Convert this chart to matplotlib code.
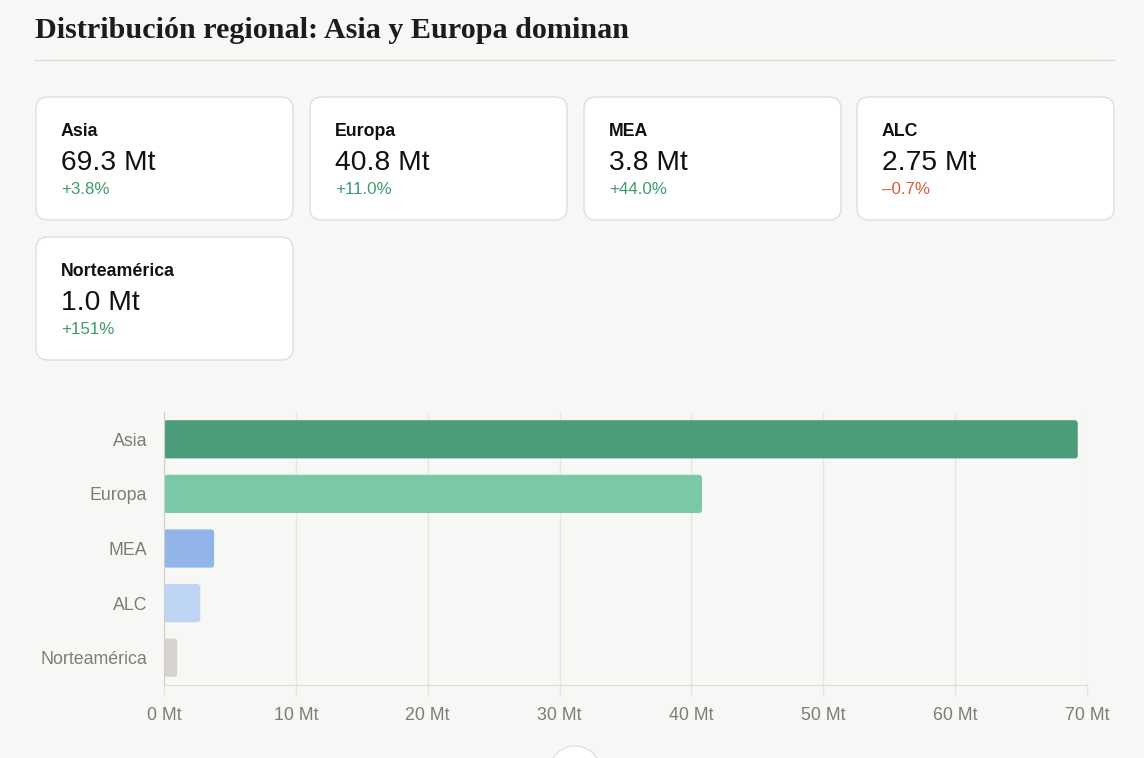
import matplotlib
matplotlib.use("Agg")
import matplotlib.pyplot as plt
from matplotlib.patches import FancyBboxPatch, Circle

# data
regions = ["Asia", "Europa", "MEA", "ALC", "Norteamérica"]
volumes = [69.3, 40.8, 3.8, 2.75, 1.0]
value_labels = ["69.3 Mt", "40.8 Mt", "3.8 Mt", "2.75 Mt", "1.0 Mt"]
changes = ["+3.8%", "+11.0%", "+44.0%", "\u20130.7%", "+151%"]
bar_colors = ["#4a9d78", "#7bc8a6", "#91b5e8", "#bdd4f2", "#d6d3cc"]
x_ticks = [0, 10, 20, 30, 40, 50, 60, 70]

BG = "#f7f7f5"
GRID = "#e6e6e3"
SANS = ["Liberation Sans", "DejaVu Sans"]

plt.rcParams["font.family"] = SANS

W, H = 1144, 758
fig = plt.figure(figsize=(W / 100, H / 100), dpi=100)
fig.patch.set_facecolor(BG)

# ── background layer in pixel coordinates ──────────────────────────────────
bg = fig.add_axes([0, 0, 1, 1], zorder=0)
bg.set_xlim(0, W)
bg.set_ylim(H, 0)
bg.axis("off")

bg.text(35, 31, "Distribución regional: Asia y Europa dominan",
        family=["Liberation Serif", "DejaVu Serif"], fontweight="bold",
        fontsize=21.7, color="#1c1c1c", va="center", ha="left")
bg.plot([35, 1114], [60, 60], color="#dcdcd8", lw=1)

# ── KPI cards ──────────────────────────────────────────────────────────────
card_x = [36, 310, 584, 857]
card_w, card_h = 257, 123
for i, (name, val, chg) in enumerate(zip(regions, value_labels, changes)):
    cx = card_x[i % 4]
    cy = 97 + (i // 4) * 140
    bg.add_patch(FancyBboxPatch((cx, cy), card_w, card_h,
                                boxstyle="round,pad=0,rounding_size=12",
                                facecolor="white", edgecolor="#dedede", lw=1))
    bg.text(cx + 25, cy + 35, name, fontsize=12.8, fontweight="bold",
            color="#111111", va="center", ha="left")
    bg.text(cx + 25, cy + 65.5, val, fontsize=20.3, color="#111111",
            va="center", ha="left")
    col = "#d2603c" if chg.startswith("\u2013") else "#3f9a6c"
    bg.text(cx + 25, cy + 93, chg, fontsize=12.2, color=col,
            va="center", ha="left")

# partly hidden round button at the bottom
bg.add_patch(Circle((575, 772), 26, facecolor="white", edgecolor="#e2e2e0",
                    lw=1, clip_on=False))

# ── bar chart ──────────────────────────────────────────────────────────────
ax = fig.add_axes([164 / W, 1 - 685 / H, 923 / W, 273 / H], zorder=1)
ax.set_facecolor("none")

bars = ax.barh(regions, volumes, height=0.7, color=bar_colors)
ax.set_xlim(0, 70)
ax.set_ylim(len(regions) - 0.5, -0.5)

# swap the plain bars for rounded ones
ax_w_px, ax_h_px = 923, 273
x_per_px = 70 / ax_w_px
y_per_px = len(regions) / ax_h_px
for b, c in zip(bars, bar_colors):
    b.set_visible(False)
    ax.add_patch(FancyBboxPatch((b.get_x(), b.get_y()), b.get_width(), b.get_height(),
                                boxstyle=f"round,pad=0,rounding_size={3 * x_per_px}",
                                mutation_aspect=y_per_px / x_per_px,
                                facecolor=c, edgecolor="none", zorder=2))

ax.set_xticks(x_ticks)
ax.set_xticklabels([f"{t} Mt" for t in x_ticks])
ax.grid(axis="x", color=GRID, lw=1, zorder=0)
ax.set_axisbelow(True)
ax.tick_params(axis="x", length=8, width=1, color=GRID, pad=8,
               labelsize=12.8, labelcolor="#7d7d78")
ax.tick_params(axis="y", length=0, pad=12, labelsize=12.8, labelcolor="#7d7d78")

for s in ["top", "right"]:
    ax.spines[s].set_visible(False)
ax.spines["bottom"].set_color("#dcdcd8")
ax.spines["left"].set_color("#cfcfcb")

fig.savefig("out.png", dpi=100, facecolor=BG)
